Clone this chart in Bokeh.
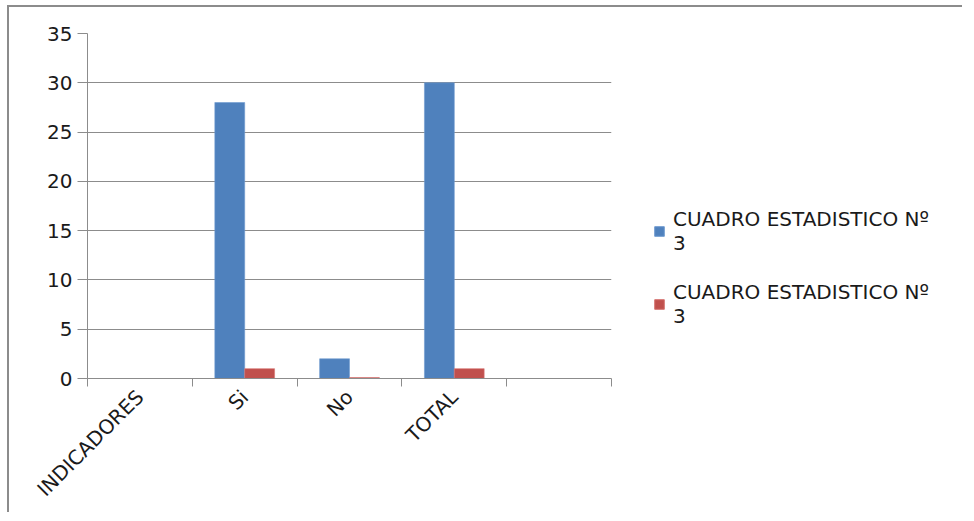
import math
import numpy as np
from bokeh.plotting import figure
from bokeh.layouts import row
from bokeh.models import (ColumnDataSource, FixedTicker, Legend, LegendItem, Range1d)
from bokeh.transform import dodge
from bokeh.embed import file_html
from bokeh.resources import INLINE

categories = ["INDICADORES", "Si", "No", "TOTAL", ""]
serie_azul = [0, 28, 2, 30, 0]
serie_roja = [0, 1.0, 0.1, 1.0, 0]
serie_nombre = "CUADRO ESTADISTICO Nº\n3"
y_ticks = [0, 5, 10, 15, 20, 25, 30, 35]

FONT = "DejaVu Sans"
GRAY = "#8c8c8c"
TXT = "#1a1a1a"
AZUL = "#4F81BD"
ROJO = "#C0504D"

pos = np.arange(len(categories)) + 0.5
src = ColumnDataSource(dict(x=pos, azul=serie_azul, roja=serie_roja))

p = figure(frame_width=526, frame_height=345, output_backend="svg", toolbar_location=None,
           x_range=Range1d(0, len(categories)), y_range=Range1d(0, 35),
           min_border_left=78, min_border_right=2, min_border_top=26, min_border_bottom=128)
p.outline_line_color = None
p.background_fill_color = "white"

bw = 0.285
p.vbar(x=dodge("x", -bw / 2), top="azul", width=bw, source=src,
       fill_color=AZUL, line_color="#6f9bd0", line_width=0.6)
p.vbar(x=dodge("x", bw / 2), top="roja", width=bw, source=src,
       fill_color=ROJO, line_color="#d67370", line_width=0.6)

# x axis: category boundaries as (minor) ticks, labels at centers
xa = p.xaxis[0]
xa.ticker = FixedTicker(ticks=list(pos), minor_ticks=list(range(len(categories) + 1)))
xa.major_label_overrides = {float(v): c for v, c in zip(pos, categories)}
xa.major_tick_line_color = None
xa.minor_tick_line_color = GRAY
xa.minor_tick_out = 8
xa.minor_tick_in = 0
xa.axis_line_color = GRAY
xa.major_label_orientation = math.pi / 4
xa.major_label_text_font = FONT
xa.major_label_text_font_size = "20px"
xa.major_label_text_color = TXT
xa.major_label_standoff = 7

ya = p.yaxis[0]
ya.ticker = FixedTicker(ticks=y_ticks)
ya.axis_line_color = GRAY
ya.major_tick_line_color = GRAY
ya.major_tick_out = 10
ya.major_tick_in = 0
ya.minor_tick_line_color = None
ya.major_label_text_font = FONT
ya.major_label_text_font_size = "20px"
ya.major_label_text_color = TXT
ya.major_label_standoff = 5

p.xgrid.grid_line_color = None
p.ygrid.ticker = FixedTicker(ticks=y_ticks)
p.ygrid.grid_line_color = GRAY
p.ygrid.grid_line_width = 1

# legend panel (separate figure so that the legend is not clipped by the bar frame)
p2 = figure(width=349, height=505, output_backend="svg", toolbar_location=None,
            min_border=0, x_axis_location=None, y_axis_location=None)
p2.outline_line_color = None
p2.grid.grid_line_color = None
l1 = p2.vbar(x="x", top="azul", width=0.3, source=src, fill_color=AZUL, line_color="#6f9bd0")
l2 = p2.vbar(x="x", top="roja", width=0.3, source=src, fill_color=ROJO, line_color="#d67370")
l1.visible = False
l2.visible = False

legend = Legend(items=[LegendItem(label=serie_nombre, renderers=[l1]),
                       LegendItem(label=serie_nombre, renderers=[l2])],
                location=(40, 50), border_line_color=None, background_fill_alpha=0,
                inactive_fill_alpha=0, click_policy="none",
                padding=0, margin=0, spacing=25, glyph_width=12, glyph_height=12,
                label_standoff=8, label_text_font=FONT, label_text_font_size="20px",
                label_text_color=TXT)
p2.add_layout(legend, "center")

layout = row(p, p2, width=955,
             styles={"margin-left": "7px", "margin-top": "5px",
                     "border-left": "2px solid #8c8c8c", "border-top": "2px solid #8c8c8c"})

open("out.html", "w").write(file_html(layout, INLINE))
